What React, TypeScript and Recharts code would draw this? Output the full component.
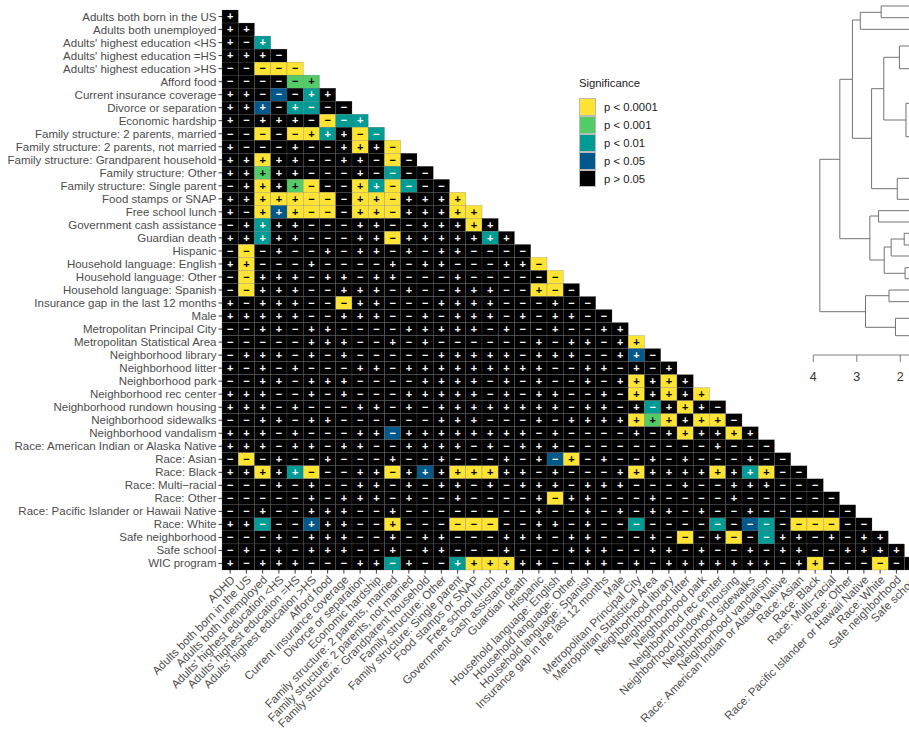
import { Legend, Scatter, ScatterChart, XAxis, YAxis } from 'recharts'

const FONT = '"Liberation Sans", Arial, sans-serif'
const LABEL_SIZE = 11.5
const CELL_W = 16.25
const CELL_H = 13.02

const rowLabels = [
  'Adults both born in the US',
  'Adults both unemployed',
  "Adults' highest education <HS",
  "Adults' highest education =HS",
  "Adults' highest education >HS",
  'Afford food',
  'Current insurance coverage',
  'Divorce or separation',
  'Economic hardship',
  'Family structure: 2 parents, married',
  'Family structure: 2 parents, not married',
  'Family structure: Grandparent household',
  'Family structure: Other',
  'Family structure: Single parent',
  'Food stamps or SNAP',
  'Free school lunch',
  'Government cash assistance',
  'Guardian death',
  'Hispanic',
  'Household language: English',
  'Household language: Other',
  'Household language: Spanish',
  'Insurance gap in the last 12 months',
  'Male',
  'Metropolitan Principal City',
  'Metropolitan Statistical Area',
  'Neighborhood library',
  'Neighborhood litter',
  'Neighborhood park',
  'Neighborhood rec center',
  'Neighborhood rundown housing',
  'Neighborhood sidewalks',
  'Neighborhood vandalism',
  'Race: American Indian or Alaska Native',
  'Race: Asian',
  'Race: Black',
  'Race: Multi\u2212racial',
  'Race: Other',
  'Race: Pacific Islander or Hawaii Native',
  'Race: White',
  'Safe neighborhood',
  'Safe school',
  'WIC program',
]
const columnLabels = ['ADHD', ...rowLabels.slice(0, -1)]

// sign of the association, then significance: Y p<0.0001, G p<0.001, T p<0.01, B p<0.05, none p>0.05
const matrixRows = [
  '+',
  '+ +',
  '+ - +T',
  '+ + + -',
  '- - -Y -Y -Y',
  '- - - - -G +G',
  '+ + - -B - +T +',
  '+ + +B - +T -T - -',
  '+ - + + + - -Y -T +T',
  '- - -Y - -Y +Y +T + -Y -T',
  '+ - - - + - - + +Y + -Y',
  '+ + +Y + + - - + + - -Y -',
  '+ + +G + + - - - + - -T - -',
  '- + +Y + +G -Y - - +Y +T -Y -T - -',
  '+ + +Y +Y +Y -Y -Y - +Y +Y -Y + + + +Y',
  '+ - +Y +B +Y -Y -Y - +Y +Y -Y + + + +Y +Y',
  '- + +T + + - - - + + - - + + + +Y +',
  '+ + +T + + - - - + + -Y + + + + + +T +',
  '- -Y - + - - + - + + - + - + + - - - -',
  '+ +Y - - - + - - - - + - + + - - - + + -Y',
  '- -Y + + + - + + - + + - - - + - - - - - -Y',
  '- -Y + + + - - + + + - + - - + + + - - +Y -Y -',
  '+ - + + + - - -Y + + - - - + + + + - - - + - -',
  '+ + + + + - - + + + - - + - + + + - + - + + - -',
  '- - + + - + + - - - - + + + + + - + - - + - - + +',
  '- - - - - + + + - - + - + - - - - - - + - + + - + +Y',
  '- + + + - + - + - - - - - + + + + + - + + + - - + +B -',
  '+ - + - + - - - + + - + + + + + + + + + - - + + - + - +',
  '- - + + - + + + - - - - + + + + - + - + - - + - + +Y + +Y +',
  '+ + + - - + - + - - - + + + + + - + - + + - - + - +Y + +Y + +Y',
  '+ + + - + - - - + + - + - + + + + + + + + - + + - + -T + +Y + -',
  '- - + + - + + - - - - - - + + + - - - + - + + + + +Y +G +Y + +Y +Y -',
  '+ + + - + - - - + + -B + + + + + + + + - + - - - - + - + +Y + + +Y +',
  '+ + + - + + - + + - - + + + + - + - + + + - - - - - - - - - + - - -',
  '- -Y - + - - + - - - + - - + - - - + - + -B +Y - + - - + - + - - - + - -',
  '+ + +Y + +T -Y - - + + -Y + +B + +Y +Y +Y + + - + - - - + +Y + + + + +Y + +T +Y - -',
  '- - - + - + - - + + - + - + + - + - + + + - + + + - - - + - - + + + - - -',
  '- - - - - + - + + + - + - - + - - - - + -Y + + - - - + - - - - + - - - - - -',
  '- - + - - + + + - - + - - - - - - - - + - - + - + - + + - + - - + - - - - - -',
  '+ + -T - - +B + + - - +Y - - - -Y -Y -Y - - + + - + - - -T - - - - -T - -B -T - -Y -Y -Y - -',
  '- - - + - + + + - - + - + + - - - + + + - + + - - - + - -Y - + -Y - -T + + - + - + +',
  '- + - + - + + + - - + - + + - - - + - - - + + + - - + + - + - - + - + + - - + + + +',
  '+ - + + + - - - + + -T + - - +T +Y +Y +Y + + - - + + - + - + + + + + + + - + +Y - - - -Y - -',
]

const levelKeys = ['Y', 'G', 'T', 'B', 'N']
const levelLabels = ['p < 0.0001', 'p < 0.001', 'p < 0.01', 'p < 0.05', 'p > 0.05']
const levelColors = ['#FDE333', '#53CC67', '#009B95', '#00588B', '#000000']
const levelSignColors = ['#000000', '#000000', '#ffffff', '#ffffff', '#ffffff']

// dendrogram merges: height of the join, vertical position of both arms, height of the child on each arm
const mergeHeights = [2.44, 2.92, 3.1, 2.66, 2.38, 2.02, 1.87, 2.07, 3.39, 2.7, 2.5, 2.37, 2.21, 1.91, 1.89, 3.85, 2.8, 2.26, 2.11]
const mergeTop = [6, 12.3, 20, 88.7, 57.3, 46, 103.3, 178.3, 79.3, 216, 210.7, 247, 239, 233.3, 267.7, 159.3, 295.7, 290, 318.3]
const mergeBottom = [17.7, 29.3, 138.3, 188.7, 120, 68.7, 136.7, 199.3, 238.7, 260, 222, 273.3, 256, 245, 278.7, 311.7, 327.3, 301.7, 335.7]
const topChild = [0, 2.44, 2.92, 2.38, 2.02, 0, 0, 0, 3.1, 2.5, 0, 2.21, 1.91, 0, 0, 3.39, 2.26, 0, 0]
const bottomChild = [0, 0, 2.66, 2.07, 1.87, 0, 0, 0, 2.7, 2.37, 0, 1.89, 0, 0, 0, 2.8, 2.11, 0, 0]
const heightTicks = [4, 3, 2, 1, 0]

const cells = matrixRows.flatMap((row, r) =>
  row.split(' ').map((token, c) => {
    const level = Math.max(levelKeys.indexOf(token[1] ?? 'N'), 0)
    return { col: c + 0.5, row: r + 0.5, sign: token[0] === '+' ? '+' : '\u2212', level }
  }),
)

const branches = mergeHeights.map((h, i) => [
  { h: topChild[i], pos: mergeTop[i] },
  { h, pos: mergeTop[i] },
  { h, pos: mergeBottom[i] },
  { h: bottomChild[i], pos: mergeBottom[i] },
])

const xTicks = columnLabels.map((_, i) => i + 0.5)
const yTicks = rowLabels.map((_, i) => i + 0.5)

function CellMark(props: any) {
  const { cx, cy, payload } = props
  return (
    <g>
      <rect
        x={cx - CELL_W / 2}
        y={cy - CELL_H / 2}
        width={CELL_W}
        height={CELL_H}
        fill={levelColors[payload.level]}
        stroke="#6b6b6b"
        strokeWidth={0.25}
      />
      <text
        x={cx}
        y={cy + 3.8}
        textAnchor="middle"
        fontFamily={FONT}
        fontSize={11}
        fontWeight="bold"
        fill={levelSignColors[payload.level]}
      >
        {payload.sign}
      </text>
    </g>
  )
}

function ColumnTick(props: any) {
  const { x, y, payload } = props
  return (
    <text
      x={x + 5.5}
      y={y + 5}
      transform={`rotate(-45 ${x + 5.5} ${y + 5})`}
      textAnchor="end"
      fontFamily={FONT}
      fontSize={LABEL_SIZE}
      fill="#4d4d4d"
    >
      {columnLabels[Math.floor(payload.value)]}
    </text>
  )
}

function RowTick(props: any) {
  const { x, y, payload } = props
  return (
    <text x={x} y={y + 4} textAnchor="end" fontFamily={FONT} fontSize={LABEL_SIZE} fill="#4d4d4d">
      {rowLabels[Math.floor(payload.value)]}
    </text>
  )
}

function SignificanceLegend() {
  return (
    <div style={{ fontFamily: FONT, color: '#1a1a1a', fontSize: 11.3 }}>
      <div style={{ height: 22, lineHeight: '14px' }}>Significance</div>
      {levelLabels.map((label, i) => (
        <div key={label} style={{ display: 'flex', alignItems: 'center', height: 17.9 }}>
          <div
            style={{
              width: 17,
              height: 17.9,
              background: levelColors[i],
              boxSizing: 'border-box',
              border: '0.5px solid #bbbbbb',
              marginRight: 8,
            }}
          />
          {label}
        </div>
      ))}
    </div>
  )
}

export default function App() {
  return (
    <div style={{ position: 'absolute', left: 0, top: 0, width: 909, height: 733, overflow: 'hidden', background: '#fff' }}>
      <div style={{ position: 'absolute', left: 0, top: 0 }}>
        <ScatterChart width={1000} height={733} margin={{ top: 10, right: 79.25, bottom: 0, left: 0 }}>
          <XAxis
            type="number"
            dataKey="col"
            domain={[0, 43]}
            ticks={xTicks}
            interval={0}
            height={163}
            axisLine={false}
            tickLine={{ stroke: '#333333' }}
            tickSize={3.5}
            tick={<ColumnTick />}
          />
          <YAxis
            type="number"
            dataKey="row"
            domain={[0, 43]}
            reversed
            ticks={yTicks}
            interval={0}
            width={222}
            axisLine={false}
            tickLine={{ stroke: '#333333' }}
            tickSize={3.5}
            tickMargin={2}
            tick={<RowTick />}
          />
          <Scatter data={cells} shape={<CellMark />} isAnimationActive={false} />
          <Legend
            layout="horizontal"
            align="center"
            verticalAlign="middle"
            wrapperStyle={{ left: 579, top: 76, width: 110 }}
            content={<SignificanceLegend />}
          />
        </ScatterChart>
      </div>
      <div style={{ position: 'absolute', left: 0, top: 0 }}>
        <ScatterChart width={1000} height={400} margin={{ top: 0, right: 12.7, bottom: 0, left: 813.3 }}>
          <XAxis
            type="number"
            dataKey="h"
            domain={[0, 4]}
            reversed
            ticks={heightTicks}
            interval={0}
            height={45}
            axisLine={{ stroke: '#7f7f7f' }}
            tickLine={{ stroke: '#7f7f7f' }}
            tickSize={7}
            tickMargin={10}
            tick={{ fontSize: 12.5, fontFamily: FONT, fill: '#333333' }}
          />
          <YAxis type="number" dataKey="pos" domain={[0, 355]} reversed hide />
          {branches.map((points, i) => (
            <Scatter
              key={i}
              data={points}
              line={{ stroke: '#737373', strokeWidth: 1 }}
              shape={() => <g />}
              isAnimationActive={false}
            />
          ))}
        </ScatterChart>
      </div>
    </div>
  )
}
